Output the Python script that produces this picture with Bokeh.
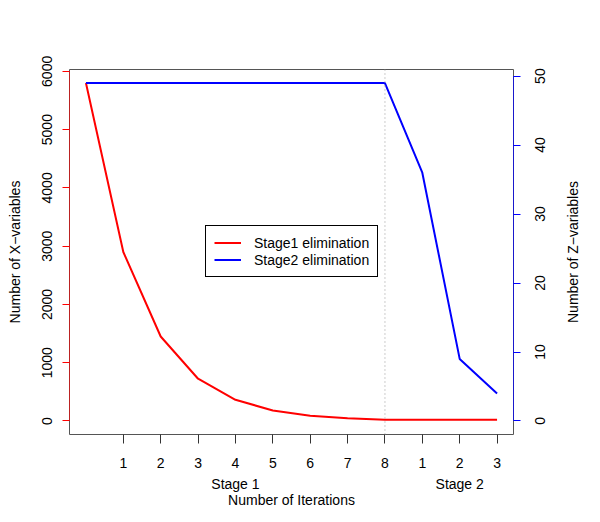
import math
from bokeh.plotting import figure
from bokeh.models import Range1d, LinearAxis, FixedTicker, Span, Legend, LegendItem
from bokeh.embed import file_html
from bokeh.resources import INLINE

# ---- data ----
iterations = [0, 1, 2, 3, 4, 5, 6, 7, 8, 9, 10, 11]
stage1_x_vars = [5800, 2900, 1450, 725, 363, 181, 91, 45, 22, 22, 22, 22]
stage2_z_vars = [49, 49, 49, 49, 49, 49, 49, 49, 49, 36, 9, 4]

x_tick_pos = [1, 2, 3, 4, 5, 6, 7, 8, 9, 10, 11]
x_tick_labels = ["1", "2", "3", "4", "5", "6", "7", "8", "1", "2", "3"]
stage_pos = [4, 10]
stage_labels = ["Stage 1", "Stage 2"]
stage_boundary = 8

left_ticks = [0, 1000, 2000, 3000, 4000, 5000, 6000]
right_ticks = [0, 10, 20, 30, 40, 50]
right_tick_labels = ["0", "10", "20", "30", "40", "50"]
right_title = "Number of Z\u2212variables"

FONT = "Liberation Sans"
FS = "14px"

Z0, Z1 = -1.96, 50.96
FRAME_H = 522 - 69 - 88
px_per_z = FRAME_H / (Z1 - Z0)
DIGIT_W = 7.78          # width of a digit at 14px
TITLE_W = 142.0         # width of the right title at 14px

p = figure(width=600, height=522, output_backend="svg", toolbar_location=None,
           x_range=Range1d(-0.44, 11.44), y_range=Range1d(-232, 6032),
           min_border_left=69, min_border_right=87, min_border_top=69,
           min_border_bottom=88)
p.extra_y_ranges = {"z": Range1d(Z0, Z1)}
p.grid.visible = False
p.outline_line_color = "#555555"
p.outline_line_width = 1
p.background_fill_color = "white"
p.border_fill_color = "white"

def style_axis(ax):
    ax.major_label_text_font = FONT
    ax.major_label_text_font_size = FS
    ax.major_label_text_color = "black"
    ax.axis_label_text_font = FONT
    ax.axis_label_text_font_size = FS
    ax.axis_label_text_font_style = "normal"
    ax.axis_label_text_color = "black"
    ax.minor_tick_line_color = None
    ax.major_tick_in = 0

# left axis
ya = p.yaxis[0]
style_axis(ya)
ya.ticker = FixedTicker(ticks=left_ticks)
ya.bounds = (left_ticks[0], left_ticks[-1])
ya.axis_line_color = "red"
ya.axis_line_alpha = 0.6
ya.major_tick_line_color = "red"
ya.major_tick_out = 7
ya.major_label_orientation = "vertical"
ya.major_label_standoff = 10
ya.axis_label = "Number of X\u2212variables"
ya.axis_label_standoff = 17

# right axis: tick marks drawn as minor ticks at the tick values, labels (reading
# bottom-to-top, anchored at their start) placed at half-width-shifted positions
lab_pos = [t - len(s) * DIGIT_W / 2 / px_per_z for t, s in zip(right_ticks, right_tick_labels)]
zl = LinearAxis(y_range_name="z",
                ticker=FixedTicker(ticks=lab_pos, minor_ticks=right_ticks),
                major_label_overrides=dict(zip(lab_pos, right_tick_labels)),
                bounds=(right_ticks[0], right_ticks[-1]))
style_axis(zl)
zl.axis_line_color = "blue"
zl.axis_line_alpha = 0.7
zl.major_tick_line_color = None
zl.major_tick_out = 0
zl.minor_tick_line_color = "blue"
zl.minor_tick_out = 7
zl.minor_tick_in = 0
zl.major_label_orientation = math.pi / 2
zl.major_label_standoff = 20
p.add_layout(zl, "right")

# right axis title
title_pos = (Z0 + Z1) / 2 - TITLE_W / 2 / px_per_z
zt = LinearAxis(y_range_name="z", ticker=FixedTicker(ticks=[title_pos]),
                major_label_overrides={title_pos: right_title})
style_axis(zt)
zt.axis_line_color = None
zt.major_tick_line_color = None
zt.major_tick_out = 0
zt.major_label_orientation = math.pi / 2
zt.major_label_standoff = 19
p.add_layout(zt, "right")

# bottom axis: iteration ticks
xa = p.xaxis[0]
style_axis(xa)
xa.ticker = FixedTicker(ticks=x_tick_pos)
xa.major_label_overrides = dict(zip(x_tick_pos, x_tick_labels))
xa.axis_line_color = None
xa.major_tick_line_color = "#333333"
xa.major_tick_out = 9
xa.major_label_standoff = 14

# second bottom axis: stage labels and title
sa = LinearAxis(ticker=FixedTicker(ticks=stage_pos),
                major_label_overrides=dict(zip(stage_pos, stage_labels)))
style_axis(sa)
sa.axis_line_color = None
sa.major_tick_line_color = None
sa.major_tick_out = 0
sa.major_label_standoff = 5
sa.axis_label = "Number of Iterations"
sa.axis_label_standoff = -3
p.add_layout(sa, "below")

# boundary line
p.add_layout(Span(location=stage_boundary, dimension="height", line_color="#aaaaaa",
                  line_dash="1 3", line_width=1.2))

r1 = p.line(iterations, stage1_x_vars, line_color="red", line_width=2)
r2 = p.line(iterations, stage2_z_vars, line_color="blue", line_width=2, y_range_name="z")

legend = Legend(items=[LegendItem(label="Stage1 elimination", renderers=[r1]),
                       LegendItem(label="Stage2 elimination", renderers=[r2])],
                location=(136, 157))
legend.border_line_color = "black"
legend.border_line_width = 1
legend.border_line_alpha = 1
legend.padding = 8
legend.margin = 0
legend.spacing = 0
legend.glyph_width = 27
legend.glyph_height = 17
legend.label_height = 17
legend.label_standoff = 13
legend.label_text_font = FONT
legend.label_text_font_size = FS
legend.label_text_color = "black"
legend.background_fill_alpha = 1
p.add_layout(legend, "center")

open("out.html", "w").write(file_html(p, INLINE))
